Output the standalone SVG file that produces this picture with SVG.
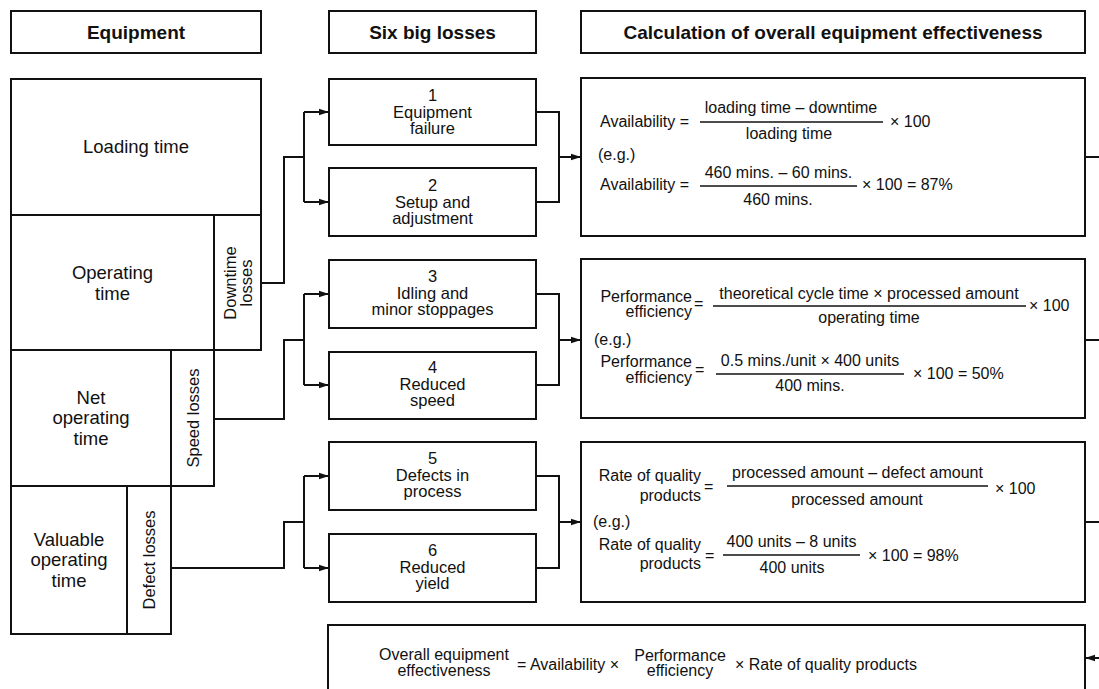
<svg xmlns="http://www.w3.org/2000/svg" width="1099" height="689" viewBox="0 0 1099 689">
<defs>
<marker id="arr" markerUnits="userSpaceOnUse" markerWidth="10" markerHeight="8" refX="10" refY="4" orient="auto">
<path d="M0,0.8 L10,4 L0,7.2 Z" fill="#111"/>
</marker>
<style>
.box{fill:#fff;stroke:#111;stroke-width:2}
.ln{fill:none;stroke:#111;stroke-width:2}
.bar{stroke:#111;stroke-width:1.3}
text{font-family:"Liberation Sans",Arial,sans-serif;fill:#111}
.hd{font-size:19px;font-weight:bold;text-anchor:middle}
.eq{font-size:18.5px;text-anchor:middle}
.bx{font-size:16.5px;text-anchor:middle}
.f{font-size:16px}
.m{text-anchor:middle}
.e{text-anchor:end}
</style>
</defs>
<rect width="1099" height="689" fill="#fff"/>

<g id="headers">
<g id="h-equipment"><rect class="box" x="11" y="11" width="250" height="42"/><text class="hd" x="136" y="39">Equipment</text></g>
<g id="h-six"><rect class="box" x="329" y="11" width="207" height="42"/><text class="hd" x="432.5" y="39">Six big losses</text></g>
<g id="h-calc"><rect class="box" x="581" y="11" width="504" height="42"/><text class="hd" x="833" y="39">Calculation of overall equipment effectiveness</text></g>
</g>

<g id="equipment">
<g id="loading"><rect class="box" x="11" y="79" width="250" height="136"/><text class="eq" x="136" y="153">Loading time</text></g>
<g id="operating"><rect class="box" x="11" y="215" width="203" height="135"/><text class="eq" x="112.5" y="279">Operating</text><text class="eq" x="112.5" y="300">time</text></g>
<g id="downtime"><rect class="box" x="214" y="215" width="47" height="135"/><text class="bx" transform="translate(237.5,283) rotate(-90)"><tspan x="0" y="-2">Downtime</tspan><tspan x="0" y="14">losses</tspan></text></g>
<g id="net"><rect class="box" x="11" y="350" width="160" height="136"/><text class="eq" x="91" y="404">Net</text><text class="eq" x="91" y="424">operating</text><text class="eq" x="91" y="445">time</text></g>
<g id="speed"><rect class="box" x="171" y="350" width="43" height="136"/><text class="bx" transform="translate(198.5,418) rotate(-90)" x="0" y="0">Speed losses</text></g>
<g id="valuable"><rect class="box" x="11" y="486" width="116" height="148"/><text class="eq" x="69" y="546">Valuable</text><text class="eq" x="69" y="566">operating</text><text class="eq" x="69" y="587">time</text></g>
<g id="defect"><rect class="box" x="127" y="486" width="44" height="148"/><text class="bx" transform="translate(155,560) rotate(-90)" x="0" y="0">Defect losses</text></g>
</g>

<g id="losses">
<g id="loss1"><rect class="box" x="329" y="79" width="207" height="66"/><text class="bx" x="432.5" y="101">1</text><text class="bx" x="432.5" y="117.5">Equipment</text><text class="bx" x="432.5" y="134">failure</text></g>
<g id="loss2"><rect class="box" x="329" y="168" width="207" height="68"/><text class="bx" x="432.5" y="191">2</text><text class="bx" x="432.5" y="207.5">Setup and</text><text class="bx" x="432.5" y="224">adjustment</text></g>
<g id="loss3"><rect class="box" x="329" y="260" width="207" height="68"/><text class="bx" x="432.5" y="282">3</text><text class="bx" x="432.5" y="298.5">Idling and</text><text class="bx" x="432.5" y="315">minor stoppages</text></g>
<g id="loss4"><rect class="box" x="329" y="352" width="207" height="67"/><text class="bx" x="432.5" y="373">4</text><text class="bx" x="432.5" y="389.5">Reduced</text><text class="bx" x="432.5" y="406">speed</text></g>
<g id="loss5"><rect class="box" x="329" y="442" width="207" height="68"/><text class="bx" x="432.5" y="464">5</text><text class="bx" x="432.5" y="480.5">Defects in</text><text class="bx" x="432.5" y="497">process</text></g>
<g id="loss6"><rect class="box" x="329" y="534" width="207" height="68"/><text class="bx" x="432.5" y="556">6</text><text class="bx" x="432.5" y="572.5">Reduced</text><text class="bx" x="432.5" y="589">yield</text></g>
</g>

<g id="availability">
<rect class="box" x="581" y="78" width="504" height="158"/>
<text class="f" x="600" y="127">Availability =</text>
<text class="f m" x="791" y="113">loading time – downtime</text>
<line class="bar" x1="700" y1="122" x2="883" y2="122"/>
<text class="f m" x="789" y="139">loading time</text>
<text class="f" x="890" y="127">× 100</text>
<text class="f" x="598" y="160">(e.g.)</text>
<text class="f" x="600" y="190">Availability =</text>
<text class="f m" x="778.5" y="178">460 mins. – 60 mins.</text>
<line class="bar" x1="700" y1="186" x2="857" y2="186"/>
<text class="f m" x="778" y="205">460 mins.</text>
<text class="f" x="862" y="190">× 100 = 87%</text>
</g>

<g id="performance">
<rect class="box" x="581" y="259" width="504" height="159"/>
<text class="f e" x="692" y="302">Performance</text>
<text class="f e" x="692" y="317">efficiency</text>
<text class="f" x="694" y="309">=</text>
<text class="f m" x="869" y="299">theoretical cycle time × processed amount</text>
<line class="bar" x1="713" y1="306" x2="1026" y2="306"/>
<text class="f m" x="869" y="323">operating time</text>
<text class="f" x="1029" y="311">× 100</text>
<text class="f" x="594" y="345">(e.g.)</text>
<text class="f e" x="692" y="367">Performance</text>
<text class="f e" x="692" y="383">efficiency</text>
<text class="f" x="695" y="375">=</text>
<text class="f m" x="810" y="366">0.5 mins./unit × 400 units</text>
<line class="bar" x1="716" y1="374" x2="904" y2="374"/>
<text class="f m" x="810" y="391">400 mins.</text>
<text class="f" x="913" y="379">× 100 = 50%</text>
</g>

<g id="quality">
<rect class="box" x="581" y="442" width="504" height="160"/>
<text class="f e" x="701" y="481">Rate of quality</text>
<text class="f e" x="701" y="501">products</text>
<text class="f" x="704" y="492">=</text>
<text class="f m" x="857.5" y="478">processed amount – defect amount</text>
<line class="bar" x1="727" y1="486" x2="988" y2="486"/>
<text class="f m" x="857" y="505">processed amount</text>
<text class="f" x="995" y="494">× 100</text>
<text class="f" x="593" y="527">(e.g.)</text>
<text class="f e" x="701" y="550">Rate of quality</text>
<text class="f e" x="701" y="569">products</text>
<text class="f" x="705" y="561">=</text>
<text class="f m" x="791.5" y="547">400 units – 8 units</text>
<line class="bar" x1="723" y1="555" x2="860" y2="555"/>
<text class="f m" x="792" y="573">400 units</text>
<text class="f" x="868" y="561">× 100 = 98%</text>
</g>

<g id="oee">
<rect class="box" x="328" y="625" width="757" height="80"/>
<text class="f m" x="444" y="660">Overall equipment</text>
<text class="f m" x="444" y="676">effectiveness</text>
<text class="f" x="517" y="670">= Availability ×</text>
<text class="f m" x="680" y="661">Performance</text>
<text class="f m" x="680" y="676">efficiency</text>
<text class="f" x="735" y="670">× Rate of quality products</text>
</g>

<g id="connectors">
<path class="ln" d="M261,283 H284 V157 H304"/>
<path class="ln" d="M304,112 V202"/>
<path class="ln" d="M304,112 H329" marker-end="url(#arr)"/>
<path class="ln" d="M304,202 H329" marker-end="url(#arr)"/>
<path class="ln" d="M214,419 H284 V340 H304"/>
<path class="ln" d="M304,294 V385"/>
<path class="ln" d="M304,294 H329" marker-end="url(#arr)"/>
<path class="ln" d="M304,385 H329" marker-end="url(#arr)"/>
<path class="ln" d="M171,568 H284 V522 H304"/>
<path class="ln" d="M304,476 V568"/>
<path class="ln" d="M304,476 H329" marker-end="url(#arr)"/>
<path class="ln" d="M304,568 H329" marker-end="url(#arr)"/>
<path class="ln" d="M536,112 H559 V202 H536"/>
<path class="ln" d="M559,157 H581" marker-end="url(#arr)"/>
<path class="ln" d="M536,294 H559 V385 H536"/>
<path class="ln" d="M559,340 H581" marker-end="url(#arr)"/>
<path class="ln" d="M536,476 H559 V568 H536"/>
<path class="ln" d="M559,522 H581" marker-end="url(#arr)"/>
<path class="ln" d="M1085,157 H1099"/>
<path class="ln" d="M1085,340 H1099"/>
<path class="ln" d="M1085,522 H1099"/>
<path class="ln" d="M1099,658 H1085" marker-end="url(#arr)"/>
</g>
</svg>
